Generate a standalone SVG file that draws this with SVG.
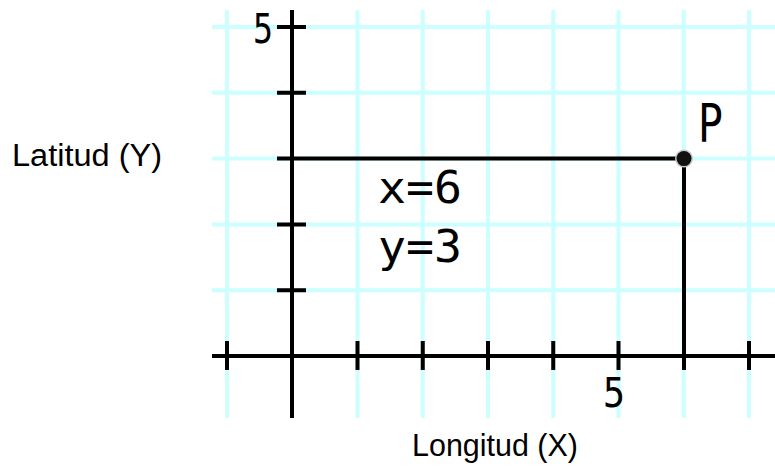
<svg xmlns="http://www.w3.org/2000/svg" width="775" height="468" viewBox="0 0 775 468">
<style>
.grid{stroke:#ccffff;stroke-width:4;fill:none}
.ax{stroke:#000;stroke-width:4;fill:none}
.lbl{font-family:"Liberation Sans",Arial,sans-serif;font-size:31px;fill:#000}
.pix{font-family:"DejaVu Sans Mono","Liberation Mono",monospace;fill:#000}
</style>
<rect width="775" height="468" fill="#fff"/>
<g id="grid" class="grid">
<path d="M227 10V418M292 10V418M357.5 10V418M422.75 10V418M488 10V418M553.25 10V418M618.5 10V418M683.75 10V418M749 10V418"/>
<path d="M212 27H775M212 92.8H775M212 158.6H775M212 224.4H775M212 290.2H775"/>
</g>
<g id="axes" class="ax">
<path d="M292 10V418"/>
<path d="M212 356H775"/>
<path d="M277 27H306M277 92.8H306M277 224.4H306M277 290.2H306"/>
<path d="M227 341V370M357.5 341V370M422.75 341V370M488 341V370M553.25 341V370M618.5 341V370M749 341V370"/>
</g>
<g id="connectors" class="ax">
<path d="M277 158.6H684"/>
<path d="M684 158.6V370"/>
</g>
<g id="P">
<circle cx="684" cy="158.6" r="9" fill="#c8c8c8"/>
<circle cx="684" cy="158.6" r="7.5" fill="#111"/>
<text class="pix" x="698" y="142" font-size="53" textLength="25" lengthAdjust="spacingAndGlyphs">P</text>
</g>
<g id="labels">
<text class="pix" x="253" y="43" font-size="41" textLength="20" lengthAdjust="spacingAndGlyphs">5</text>
<text class="pix" x="603" y="407" font-size="41" textLength="22" lengthAdjust="spacingAndGlyphs">5</text>
<text class="pix" x="378" y="203" font-size="45" textLength="84" lengthAdjust="spacingAndGlyphs">x=6</text>
<text class="pix" x="378" y="262" font-size="45" textLength="84" lengthAdjust="spacingAndGlyphs">y=3</text>
<text class="lbl" x="12" y="166" textLength="150" lengthAdjust="spacingAndGlyphs">Latitud (Y)</text>
<text class="lbl" x="412" y="456" textLength="166" lengthAdjust="spacingAndGlyphs">Longitud (X)</text>
</g>
</svg>
